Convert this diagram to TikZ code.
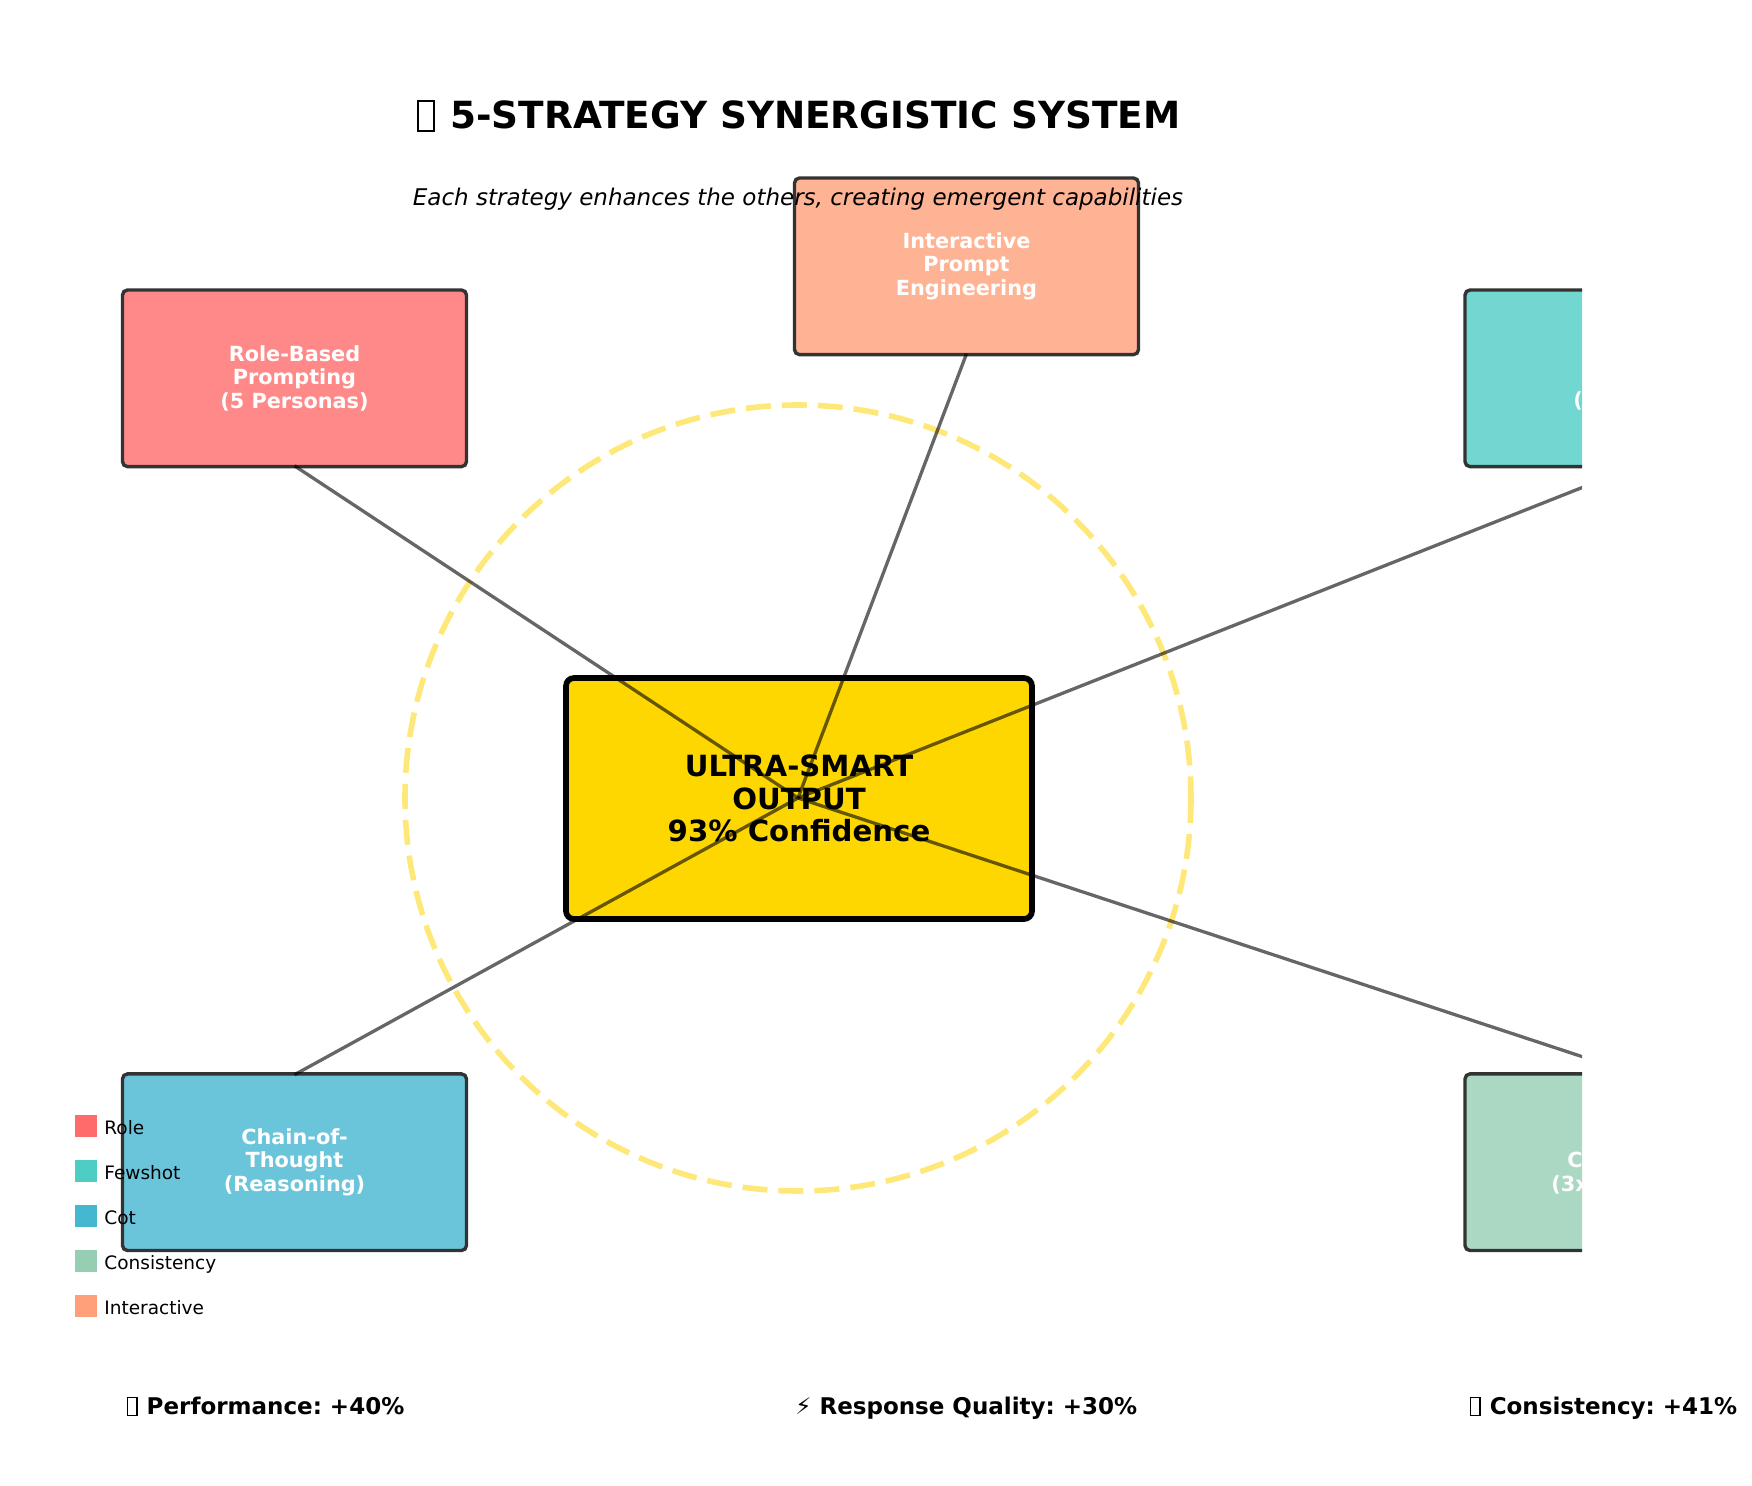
\documentclass[tikz,border=0pt]{standalone}
\usepackage{fontspec}
\setmainfont{DejaVu Sans}
\usetikzlibrary{calc}
\frenchspacing
\definecolor{rolefill}{HTML}{FF8989}
\definecolor{fewfill}{HTML}{71D7D0}
\definecolor{cotfill}{HTML}{6AC5DA}
\definecolor{consfill}{HTML}{ABD8C3}
\definecolor{interfill}{HTML}{FFB395}
\definecolor{rolec}{HTML}{FF6B6B}
\definecolor{fewc}{HTML}{4ECDC4}
\definecolor{cotc}{HTML}{45B7D1}
\definecolor{consc}{HTML}{96CEB4}
\definecolor{interc}{HTML}{FFA07A}
\definecolor{goldc}{HTML}{FFD700}
\definecolor{ringc}{HTML}{FFE87A}
\definecolor{edgec}{HTML}{333333}
\newcommand\tofu{\hspace{0.05em}{\setlength{\fboxsep}{0pt}\setlength{\fboxrule}{0.055em}\fbox{\rule[-0.045em]{0pt}{0.75em}\hspace{0.37em}}}\hspace{0.05em}}
\newcommand\boxfont{\bfseries\fontsize{10.4pt}{11.65pt}\selectfont}
\tikzset{
  stratbox/.style={draw=edgec, line width=1.7pt, rounded corners=2.5pt,
    minimum width=172pt, minimum height=88.3pt, inner sep=0pt,
    text=white, font=\boxfont, align=center},
  hubbox/.style={draw=black, fill=goldc, line width=2.85pt, rounded corners=4pt,
    minimum width=233pt, minimum height=120.5pt, inner sep=0pt, align=center,
    font=\bfseries\fontsize{14.6pt}{16.25pt}\selectfont},
  conn/.style={draw=black, draw opacity=0.6, line width=1.65pt},
  ring/.style={draw=ringc, line width=2.8pt, dash pattern=on 12.5pt off 5.5pt},
  frag/.style={inner sep=0pt, text=white, font=\boxfont, anchor=base west},
  legsq/.style={minimum width=11pt, minimum height=10.85pt, inner sep=0pt, anchor=north west},
  legtxt/.style={inner sep=0pt, anchor=base west, font=\fontsize{9.25pt}{11pt}\selectfont},
  stat/.style={inner sep=0pt, anchor=base west, font=\bfseries\fontsize{11.5pt}{13.8pt}\selectfont}
}
\begin{document}
\begin{tikzpicture}[x=0.5pt, y=-0.5pt]
\useasboundingbox (0,0) rectangle (1752,1485);
% title
\node[anchor=base, inner sep=0pt, font=\bfseries\fontsize{18.7pt}{22pt}\selectfont] (title) at (798,128.5) {\tofu\ 5-STRATEGY SYNERGISTIC SYSTEM};
\begin{scope}
\clip (0,0) rectangle (1582,1485);
\coordinate (hub) at (798,798);
\draw[ring] (hub) circle[radius=393];
\node[hubbox] (out) at (799,798.5) {ULTRA-SMART\\OUTPUT\\93\% Confidence};
\node[stratbox, fill=rolefill] (role) at (294.5,378.3) {Role-Based\\Prompting\\(5 Personas)};
\node[stratbox, fill=interfill] (inter) at (966.5,266.3) {Interactive\\Prompt\\Engineering};
\node[stratbox, fill=fewfill] (few) at (1637,378.3) {};
\node[stratbox, fill=cotfill] (cot) at (294.5,1162.2) {Chain-of-\\Thought\\(Reasoning)};
\node[stratbox, fill=consfill] (cons) at (1637,1162.2) {};
\node[frag] (fewtxt) at (1573,407.5) {(};
\node[frag] (constxt1) at (1567,1167) {C};
\node[frag] (constxt2) at (1551,1191) {(3x};
\draw[conn] ($(role.south)+(0,-2.5)$) -- (hub);
\draw[conn] ($(inter.south)+(0,-2.5)$) -- (hub);
\draw[conn] ($(few.south)+(0,-2.5)$) -- (hub);
\draw[conn] ($(cot.north)+(0,2.5)$) -- (hub);
\draw[conn] ($(cons.north)+(0,2.5)$) -- (hub);
\end{scope}
% subtitle (drawn over the boxes)
\node[anchor=base, inner sep=0pt, font=\itshape\fontsize{11.5pt}{13.8pt}\selectfont] (subtitle) at (798,205) {Each strategy enhances the others, creating emergent capabilities};
% legend
\node[legsq, fill=rolec] (lg1) at (74.7,1115) {};
\node[legsq, fill=fewc] (lg2) at (74.7,1160) {};
\node[legsq, fill=cotc] (lg3) at (74.7,1205) {};
\node[legsq, fill=consc] (lg4) at (74.7,1250) {};
\node[legsq, fill=interc] (lg5) at (74.7,1295) {};
\node[legtxt] (lt1) at (104,1134.2) {Role};
\node[legtxt] (lt2) at (104,1179.2) {Fewshot};
\node[legtxt] (lt3) at (104,1224.2) {Cot};
\node[legtxt] (lt4) at (104,1269.2) {Consistency};
\node[legtxt] (lt5) at (104,1314.2) {Interactive};
% bottom stats
\node[stat] (s1) at (125,1414) {\tofu\ Performance: +40\%};
\node[stat] (s2) at (795,1414) {⚡ Response Quality: +30\%};
\node[stat] (s3) at (1468,1414) {\tofu\ Consistency: +41\%};
\end{tikzpicture}
\end{document}
